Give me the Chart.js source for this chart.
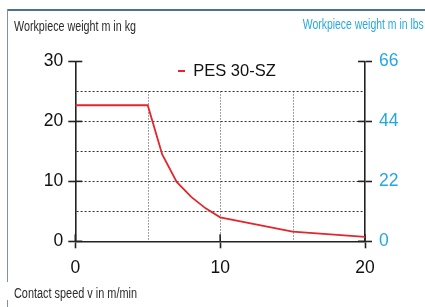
<!DOCTYPE html>
<html><head><meta charset="utf-8">
<script src="https://cdn.jsdelivr.net/npm/chart.js@4"></script>
<style>
html,body{margin:0;padding:0;background:#fff;}
#wrap{position:relative;width:425px;height:307px;overflow:hidden;background:#fff;}
canvas{position:absolute;left:0;top:0;}
.fr{position:absolute;}
.t{position:absolute;font-family:"Liberation Sans Narrow","Liberation Sans",Arial,sans-serif;font-size:15.5px;white-space:nowrap;line-height:1;}
</style></head>
<body>
<div id="wrap">
  <div class="fr" style="left:7px;top:9px;width:418px;height:2px;background:#4d7190;"></div>
  <div class="fr" style="left:7px;top:9px;width:1px;height:273px;background:#7d93a8;"></div>
  <div class="fr" style="left:7px;top:300px;width:1px;height:7px;background:#7d93a8;"></div>
  <canvas id="c" width="425" height="307"></canvas>
  <div class="t" id="tL" data-w="122" style="left:14px;top:18.3px;color:#2b2b2b;transform-origin:0 0;">Workpiece weight m in kg</div>
  <div class="t" id="tR" data-w="121" style="right:1px;top:16.2px;color:#29a9e0;transform-origin:100% 0;">Workpiece weight m in lbs</div>
  <div class="t" id="tB" data-w="123" style="left:13.5px;top:285px;color:#2b2b2b;transform-origin:0 0;">Contact speed v in m/min</div>
</div>
<script>
// ---- data ----
const speed = [0, 5, 6, 7, 8, 9, 10, 15, 20];           // m/min
const weightKg = [22.7, 22.7, 14.5, 9.9, 7.4, 5.5, 4.0, 1.6, 0.75];
const seriesName = 'PES 30-SZ';
const xTickLabels = [0, 10, 20];
const kgTickLabels = [0, 10, 20, 30];
const lbsTickLabels = [0, 22, 44, 66];
const gridStep = 5;
const gridTopKg = 25;

// fit condensed titles to their widths
document.querySelectorAll('.t').forEach(el => {
  const w = el.getBoundingClientRect().width;
  el.style.transform = 'scaleX(' + (parseFloat(el.dataset.w) / w) + ')';
});

const AX = '#222';
const RED = '#e3262d';
const BLUE = '#22a7e6';
const tickFont = {family: '"Liberation Sans", Arial, sans-serif', size: 17.5};

const decor = {
  id: 'decor',
  beforeDatasetsDraw(chart) {
    const {ctx, chartArea: a, scales: {x, y, y2}} = chart;
    ctx.save();
    // vertical dotted grid (up to gridTopKg)
    ctx.strokeStyle = '#444'; ctx.lineWidth = 1; ctx.setLineDash([1, 2]);
    for (let v = gridStep; v < x.max; v += gridStep) {
      const px = Math.round(x.getPixelForValue(v)) + 0.5;
      ctx.beginPath();
      ctx.moveTo(px, y.getPixelForValue(gridTopKg));
      ctx.lineTo(px, y.getPixelForValue(0));
      ctx.stroke();
    }
    // inner tick marks
    ctx.setLineDash([]); ctx.strokeStyle = AX; ctx.lineWidth = 1.6;
    const L = 7;
    kgTickLabels.forEach(v => { const p = y.getPixelForValue(v); ctx.beginPath(); ctx.moveTo(a.left, p); ctx.lineTo(a.left + L, p); ctx.stroke(); });
    lbsTickLabels.forEach(v => { const p = y2.getPixelForValue(v); ctx.beginPath(); ctx.moveTo(a.right - L, p); ctx.lineTo(a.right, p); ctx.stroke(); });
    xTickLabels.forEach(v => { const p = x.getPixelForValue(v); ctx.beginPath(); ctx.moveTo(p, a.bottom - L); ctx.lineTo(p, a.bottom); ctx.stroke(); });
    ctx.restore();
  }
};

const placeLegend = {
  id: 'placeLegend',
  afterLayout(chart) {
    const l = chart.legend;
    if (!l) return;
    l.left = 168; l.top = 52.75; l.width = 160; l.height = 40;
    l.right = l.left + l.width; l.bottom = l.top + l.height;
  }
};

new Chart(document.getElementById('c'), {
  type: 'line',
  data: {
    datasets: [{
      label: seriesName,
      data: speed.map((s, i) => ({x: s, y: weightKg[i]})),
      borderColor: RED,
      backgroundColor: RED,
      borderWidth: 1.8,
      pointRadius: 0,
      tension: 0,
      yAxisID: 'y'
    }]
  },
  options: {
    responsive: false,
    animation: false,
    devicePixelRatio: 1,
    layout: {padding: {top: 61.5, left: 0, right: 0, bottom: 0}},
    plugins: {
      legend: {
        position: 'chartArea',
        align: 'start',
        labels: {
          usePointStyle: true,
          pointStyle: 'line',
          pointStyleWidth: 7,
          color: '#111',
          font: {family: '"Liberation Sans", Arial, sans-serif', size: 16.5}
        }
      },
      tooltip: {enabled: false}
    },
    scales: {
      x: {
        type: 'linear', position: 'bottom', min: 0, max: 20,
        afterFit: s => { s.height = 65.7; },
        ticks: {stepSize: gridStep, autoSkip: false, maxRotation: 0, color: '#111', font: tickFont, padding: 9,
          callback: v => xTickLabels.includes(v) ? String(v) : ''},
        grid: {drawOnChartArea: false, drawTicks: true, tickLength: 7, tickWidth: 1.6,
          tickColor: c => xTickLabels.includes(c.tick.value) ? AX : 'rgba(0,0,0,0)'},
        border: {display: true, color: AX, width: 1.6}
      },
      y: {
        type: 'linear', position: 'left', min: 0, max: 30,
        afterFit: s => { s.width = 75.3; },
        ticks: {stepSize: gridStep, autoSkip: false, color: '#111', font: tickFont, padding: 5,
          callback: v => kgTickLabels.includes(v) ? String(v) : ''},
        grid: {
          drawOnChartArea: true, drawTicks: true, tickLength: 7, tickWidth: 1.6, lineWidth: 1,
          color: c => (c.tick.value > 0 && c.tick.value < 30) ? '#333' : 'rgba(0,0,0,0)',
          tickColor: c => kgTickLabels.includes(c.tick.value) ? AX : 'rgba(0,0,0,0)'
        },
        border: {display: true, color: AX, width: 1.6, dash: [2, 2]}
      },
      y2: {
        type: 'linear', position: 'right', min: 0, max: 66,
        afterFit: s => { s.width = 60; },
        ticks: {stepSize: 22, autoSkip: false, color: BLUE, font: tickFont, padding: 7,
          callback: v => lbsTickLabels.includes(v) ? String(v) : ''},
        grid: {drawOnChartArea: false, drawTicks: true, tickLength: 7, tickWidth: 1.6, tickColor: AX},
        border: {display: true, color: AX, width: 1.6}
      }
    }
  },
  plugins: [decor, placeLegend]
});
</script>
</body></html>
